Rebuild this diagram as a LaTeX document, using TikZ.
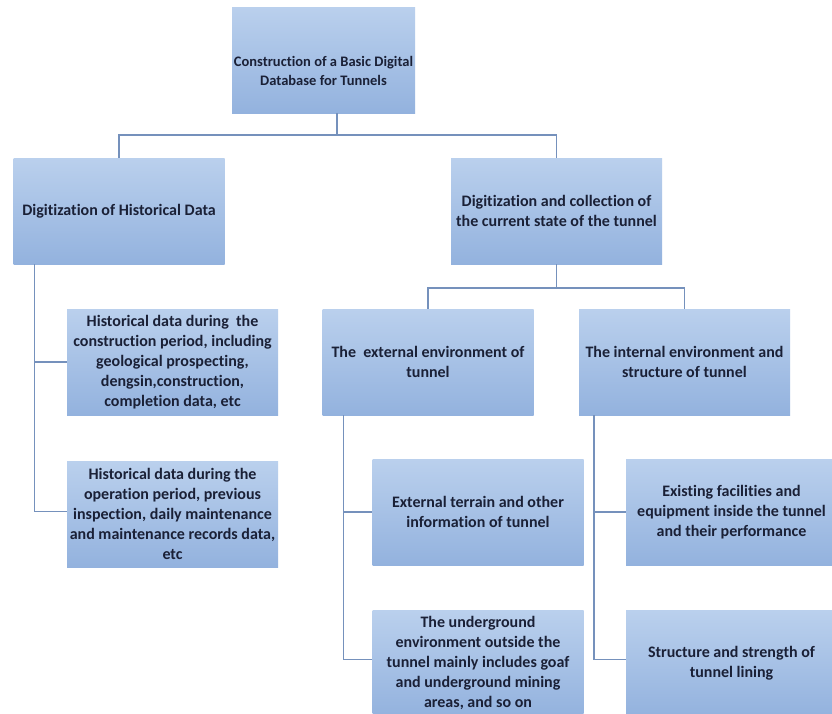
\documentclass[tikz,border=0pt]{standalone}
\usepackage{fontspec}
\setmainfont[RawFeature=-liga]{Carlito}
\usetikzlibrary{positioning}

\definecolor{boxtop}{HTML}{BAD0ED}
\definecolor{boxbot}{HTML}{93B2DE}
\definecolor{linkblue}{HTML}{7591BC}
\definecolor{ink}{HTML}{1A2036}

\begin{document}
\begin{tikzpicture}[x=1pt,y=-1pt,node distance=45pt,
  box/.style={rectangle, top color=boxtop, bottom color=boxbot,
    minimum width=211pt, minimum height=106pt, inner sep=1pt,
    align=center, text=ink, font=\bfseries\fontsize{16}{20}\selectfont},
  link/.style={draw=linkblue, line width=1.5pt}]

\useasboundingbox[fill=white] (0,0) rectangle (832,713);
\clip (0,0) rectangle (832,713);

% first two levels
\node[box, minimum width=183pt, font=\bfseries\fontsize{14.5}{19}\selectfont] (root) at (323.5,60) {\raisebox{-12pt}[\height][\depth]{\begin{tabular}{@{}c@{}}Construction of a Basic Digital\\Database for Tunnels\end{tabular}}};
\node[box] (hist) at (119,211) {Digitization of Historical Data};
\node[box] (curr) at (556.5,211) {Digitization and collection of\\the current state of the tunnel};
\node[box] (extenv) at (428,362) {The\ \ external environment of\\tunnel};
\node[box] (intenv) at (684.5,362) {The internal environment and\\structure of tunnel};

% leaves
\node[box] (histcon) at (172.5,362) {Historical data during\ \ the\\construction period, including\\geological prospecting,\\dengsin,construction,\\completion data, etc};
\node[box] (histop) [below=46pt of histcon] {Historical data during the\\operation period, previous\\inspection, daily maintenance\\and maintenance records data,\\etc};
\node[box] (terrain) at (478,512) {External terrain and other\\information of tunnel};
\node[box] (under) [below=45pt of terrain] {The underground\\environment outside the\\tunnel mainly includes goaf\\and underground mining\\areas, and so on};
\node[box] (facil) at (731.5,512) {Existing facilities and\\equipment inside the tunnel\\and their performance};
\node[box] (lining) [below=45pt of facil] {Structure and strength of\\tunnel lining};

\draw[link] ([xshift=13.5pt]root.south) -- ++(0,22) -| (hist.north);
\draw[link] ([xshift=13.5pt]root.south) -- ++(0,22) -| (curr.north);
\draw[link] (curr.south) -- ++(0,24) -| (extenv.north);
\draw[link] (curr.south) -- ++(0,24) -| (intenv.north);

\draw[link] ([xshift=21pt]hist.south west) |- (histcon.west);
\draw[link] ([xshift=21pt]hist.south west) |- ([yshift=3pt]histop.west);
\draw[link] ([xshift=21pt]extenv.south west) |- (terrain.west);
\draw[link] ([xshift=21pt]extenv.south west) |- ([yshift=4pt]under.west);
\draw[link] ([xshift=15pt]intenv.south west) |- (facil.west);
\draw[link] ([xshift=15pt]intenv.south west) |- ([yshift=4pt]lining.west);

\end{tikzpicture}
\end{document}
